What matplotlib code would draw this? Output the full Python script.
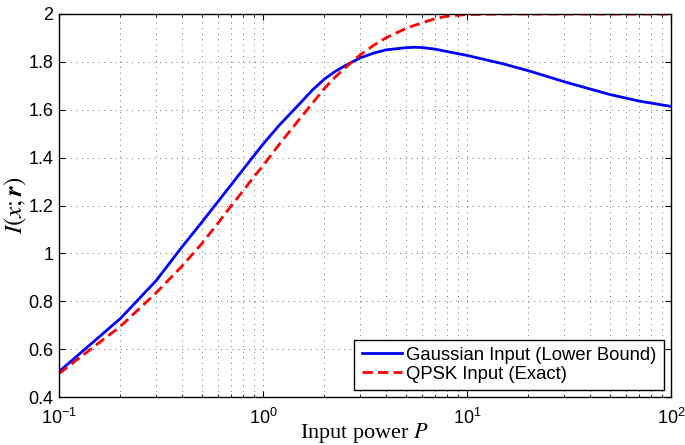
import matplotlib
matplotlib.use("Agg")
import matplotlib.pyplot as plt
from matplotlib.ticker import FuncFormatter, LogLocator, FixedLocator

# valeurs
power = [0.1, 0.2, 0.3, 0.4, 0.5, 0.6, 0.7, 0.8, 0.9, 1.0, 1.2, 1.5, 1.75, 2,
         2.25, 2.5, 3, 3.5, 4, 5, 5.5, 6, 7, 8, 10, 15, 20, 30, 40, 50, 70, 100]
gauss = [0.506, 0.728, 0.887, 1.026, 1.129, 1.215, 1.288, 1.351, 1.407, 1.456,
         1.535, 1.622, 1.683, 1.728, 1.759, 1.782, 1.817, 1.837, 1.850, 1.859,
         1.861, 1.860, 1.853, 1.843, 1.827, 1.792, 1.763, 1.717, 1.687, 1.664,
         1.636, 1.614]
qpsk = [0.498, 0.695, 0.836, 0.946, 1.040, 1.125, 1.200, 1.262, 1.319, 1.366,
        1.455, 1.558, 1.628, 1.689, 1.735, 1.772, 1.830, 1.870, 1.900, 1.939,
        1.952, 1.962, 1.981, 1.991, 1.998, 2.0, 2.0, 2.0, 2.0, 2.0, 2.0, 2.0]
yticks = [0.4, 0.6, 0.8, 1.0, 1.2, 1.4, 1.6, 1.8, 2.0]

plt.rcParams['mathtext.fontset'] = 'custom'
plt.rcParams['mathtext.rm'] = 'Liberation Sans'
plt.rcParams['mathtext.it'] = 'Liberation Sans:italic'
plt.rcParams['mathtext.bf'] = 'Liberation Sans:bold'
plt.rcParams['font.family'] = 'Liberation Sans'

fig = plt.figure(figsize=(6.85, 4.45), dpi=100)
ax = fig.add_axes([59 / 685, 48 / 445, 612 / 685, 383 / 445])

ax.semilogx(power, gauss, color=(0, 0, 1), lw=2, label='Gaussian Input (Lower Bound)')
ax.semilogx(power, qpsk, color=(1, 0, 0), lw=2, ls='--', dashes=(3.7, 1.9),
            label='QPSK Input (Exact)')

ax.set_xlim(0.1, 100)
ax.set_ylim(0.4, 2.0)
ax.yaxis.set_major_locator(FixedLocator(yticks))
ax.yaxis.set_major_formatter(FuncFormatter(lambda v, p: '%g' % v))
ax.xaxis.set_major_locator(LogLocator(base=10, numticks=10))
ax.xaxis.set_minor_locator(LogLocator(base=10, subs=range(2, 10), numticks=20))

ax.grid(True, which='major', axis='both', color='0.35', lw=0.6, ls=(0, (1.2, 5.5)))
ax.grid(True, which='minor', axis='x', color='0.35', lw=0.6, ls=(0, (1.2, 5.5)))

ax.tick_params(which='both', direction='in', top=True, right=True, labelsize=13,
               color='black')
ax.tick_params(which='major', length=4.5, width=0.8)
ax.tick_params(which='minor', length=2.5, width=0.6)
ax.tick_params(axis='x', which='major', pad=8)
ax.tick_params(axis='y', which='major', pad=4)
for s in ax.spines.values():
    s.set_linewidth(1.0)
    s.set_color('black')

ax.set_xlabel(r'Input power $P$', family='Liberation Serif', fontsize=16,
              math_fontfamily='stix', va='baseline')
ax.xaxis.set_label_coords(0.5, -(438 - 397) / 383)
ax.set_ylabel(r'$I(x;\mathbfit{r})$', fontsize=18, math_fontfamily='stix')
ax.yaxis.set_label_coords(-(59 - 29) / 612, 0.5)

leg = ax.legend(loc='lower right', fontsize=13.3, fancybox=False, framealpha=1,
                edgecolor='black', handlelength=2.2, handletextpad=0.22,
                borderpad=0.4, labelspacing=0.1, borderaxespad=0.37)
leg.get_frame().set_linewidth(1.0)

fig.savefig('out.png', dpi=100)
